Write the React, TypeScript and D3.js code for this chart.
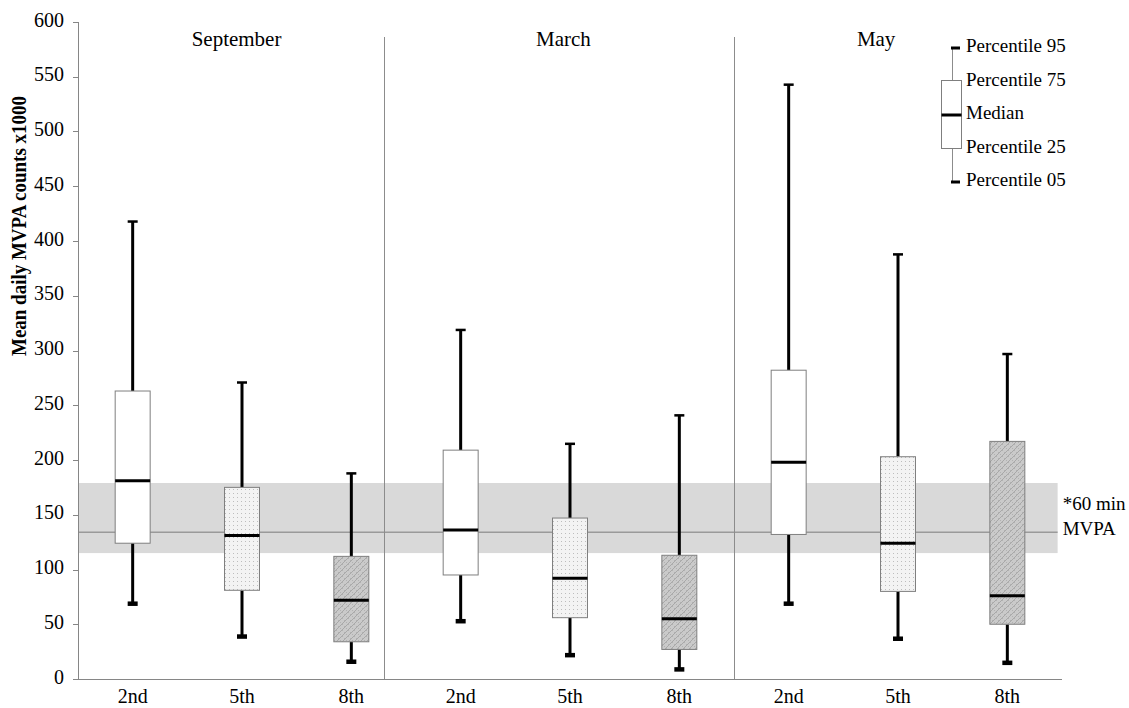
import React from "react";
import { scaleBand, scaleLinear, range } from "d3";

// values (counts x1000)
const months = ["September", "March", "May"];
const grades = ["2nd", "5th", "8th"];
const p05 = [69, 39, 16, 53, 22, 9, 69, 37, 15];
const p25 = [124, 81, 34, 95, 56, 27, 132, 80, 50];
const median = [181, 131, 72, 136, 92, 55, 198, 124, 76];
const p75 = [263, 175, 112, 209, 147, 113, 282, 203, 217];
const p95 = [418, 271, 188, 319, 215, 241, 543, 388, 297];
const fills = ["white", "url(#dots)", "url(#hatch)"];

// recommended 60 min MVPA zone
const refLow = 115;
const refHigh = 179;
const refLine = 134;

// divider / title anchors in category-index units
const dividerIdx = [2.3, 5.5];
const titleIdx = [0.95, 3.94, 6.8];
const bandEndIdx = 8.46;

const yTicks = range(0, 601, 50);
const legendLabels = ["Percentile 95", "Percentile 75", "Median", "Percentile 25", "Percentile 05"];

const W = 1129;
const H = 708;
const margin = { left: 78, right: 67, top: 22, bottom: 29 };
const FONT = "'Liberation Serif', 'Times New Roman', serif";

export default function App() {
  const keys = months.flatMap(m => grades.map(g => `${m}-${g}`));
  const x = scaleBand().domain(keys).range([margin.left, W - margin.right]).padding(0);
  const xi = scaleLinear()
    .domain([-0.5, keys.length - 0.5])
    .range([margin.left, W - margin.right]);
  const y = scaleLinear().domain([0, 600]).range([H - margin.bottom, margin.top]);
  const boxW = x.bandwidth() * 0.32;
  const axisColor = "#868686";

  return (
    <svg width={W} height={H} style={{ position: "absolute", left: 0, top: 0, background: "white" }}
      fontFamily={FONT}>
      <defs>
        <pattern id="dots" width="4" height="4" patternUnits="userSpaceOnUse">
          <rect width="4" height="4" fill="#f3f3f3" />
          <rect x="1" y="1" width="1" height="1" fill="#bdbdbd" />
        </pattern>
        <pattern id="hatch" width="6" height="6" patternUnits="userSpaceOnUse">
          <rect width="6" height="6" fill="#cacaca" />
          <rect x="0" y="0" width="1" height="1" fill="#b2b2b2" />
          <rect x="2" y="2" width="1" height="1" fill="#b2b2b2" />
          <rect x="4" y="4" width="1" height="1" fill="#b2b2b2" />
          <path d="M0,6 L6,0 M-2,2 L2,-2 M4,8 L8,4" stroke="#a8a8a8" strokeWidth="1" />
        </pattern>
      </defs>

      {/* reference band */}
      <rect x={margin.left} y={y(refHigh)} width={xi(bandEndIdx) - margin.left}
        height={y(refLow) - y(refHigh)} fill="#d9d9d9" />
      <line x1={margin.left} x2={xi(bandEndIdx)} y1={y(refLine)} y2={y(refLine)}
        stroke="#9a9a9a" strokeWidth={1.5} />
      <text x={xi(bandEndIdx) + 5} y={y(refLine) - 27} fontSize={19} dominantBaseline="middle">*60 min</text>
      <text x={xi(bandEndIdx) + 5} y={y(refLine) - 2} fontSize={19} dominantBaseline="middle">MVPA</text>

      {/* group dividers */}
      {dividerIdx.map((d, i) => (
        <line key={i} x1={Math.round(xi(d)) + 0.5} x2={Math.round(xi(d)) + 0.5} y1={37} y2={y(0)}
          stroke="#8c8c8c" strokeWidth={1} />
      ))}
      {months.map((m, i) => (
        <text key={m} x={xi(titleIdx[i])} y={41} fontSize={21} textAnchor="middle" dominantBaseline="middle">{m}</text>
      ))}

      {/* boxes */}
      {keys.map((k, i) => {
        const cx = x(k)! + x.bandwidth() / 2;
        return (
          <g key={k}>
            <line x1={cx} x2={cx} y1={y(p95[i])} y2={y(p75[i])} stroke="black" strokeWidth={3} />
            <line x1={cx} x2={cx} y1={y(p25[i])} y2={y(p05[i])} stroke="black" strokeWidth={3} />
            <rect x={cx - 5} y={y(p95[i]) - 1} width={10} height={2.5} fill="black" />
            <rect x={cx - 5} y={y(p05[i]) - 2} width={10} height={4.5} fill="black" />
            <rect x={cx - boxW / 2} y={y(p75[i])} width={boxW} height={y(p25[i]) - y(p75[i])}
              fill={fills[i % 3]} stroke="#7f7f7f" strokeWidth={1} />
            <line x1={cx - boxW / 2} x2={cx + boxW / 2} y1={y(median[i])} y2={y(median[i])}
              stroke="black" strokeWidth={3} />
            <text x={cx} y={698} fontSize={20} textAnchor="middle" dominantBaseline="middle">{grades[i % 3]}</text>
          </g>
        );
      })}

      {/* axes */}
      <line x1={margin.left + 0.5} x2={margin.left + 0.5} y1={y(600)} y2={y(0)} stroke={axisColor} />
      <line x1={margin.left} x2={W - margin.right} y1={y(0) + 0.5} y2={y(0) + 0.5} stroke={axisColor} strokeWidth={1.2} />
      {yTicks.map(t => (
        <g key={t}>
          <line x1={margin.left - 5} x2={margin.left} y1={Math.round(y(t)) + 0.5} y2={Math.round(y(t)) + 0.5} stroke={axisColor} />
          <text x={margin.left - 14} y={y(t)} fontSize={20} textAnchor="end" dominantBaseline="middle">{t}</text>
        </g>
      ))}
      <text transform={`translate(21,226) rotate(-90)`} fontSize={20} fontWeight="bold"
        textAnchor="middle" dominantBaseline="middle" textLength={260} lengthAdjust="spacingAndGlyphs">
        Mean daily MVPA counts x1000
      </text>

      {/* legend */}
      <g>
        <line x1={952.5} x2={952.5} y1={48} y2={182} stroke="#8c8c8c" />
        <rect x={941.5} y={80.5} width={20} height={68} fill="white" stroke="#7f7f7f" />
        <line x1={941.5} x2={961.5} y1={115} y2={115} stroke="black" strokeWidth={3} />
        <rect x={951} y={46.5} width={9} height={3} fill="black" />
        <rect x={951} y={180.5} width={9} height={3} fill="black" />
        {legendLabels.map((l, i) => (
          <text key={l} x={966} y={48 + i * 33.5} fontSize={19} dominantBaseline="middle">{l}</text>
        ))}
      </g>
    </svg>
  );
}
